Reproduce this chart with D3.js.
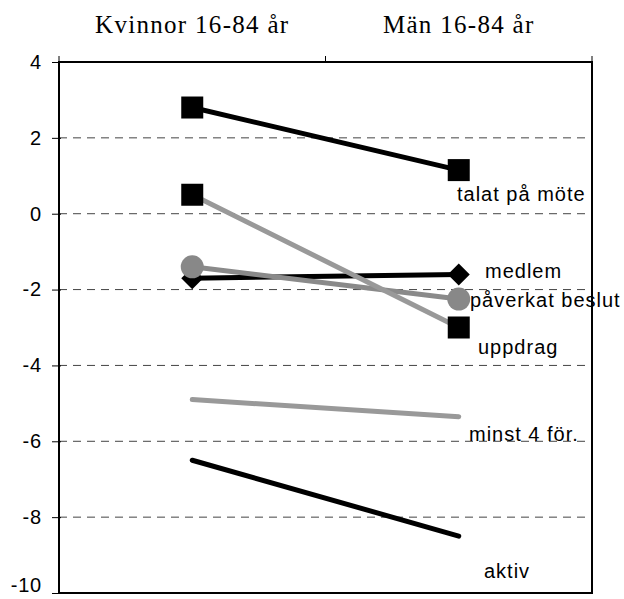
<!DOCTYPE html>
<html><head><meta charset="utf-8">
<script src="https://cdn.jsdelivr.net/npm/d3@7"></script>
<style>body{margin:0;background:#fff}svg{display:block}</style>
</head><body>
<script>
const categories = ["Kvinnor 16-84 år", "Män 16-84 år"];
const seriesNames = ["talat på möte", "uppdrag", "medlem", "påverkat beslut", "minst 4 för.", "aktiv"];
const talat = [2.8, 1.15];
const uppdrag = [0.5, -3.0];
const medlem = [-1.7, -1.6];
const paverkat = [-1.4, -2.25];
const minst4 = [-4.9, -5.35];
const aktiv = [-6.5, -8.5];
const yTicks = [4, 2, 0, -2, -4, -6, -8, -10];

const W = 624, H = 599;
const m = {left: 59, right: 32, top: 62, bottom: 6};
const svg = d3.select("body").append("svg").attr("width", W).attr("height", H);

const x = d3.scaleBand().domain(categories).range([m.left, W - m.right]);
const y = d3.scaleLinear().domain([-10, 4]).range([H - m.bottom, m.top]);
const cx = c => x(c) + x.bandwidth() / 2;

// gridlines
svg.append("g").selectAll("line").data(yTicks.filter(t => t > -10 && t < 4)).join("line")
  .attr("x1", m.left).attr("x2", W - m.right)
  .attr("y1", d => y(d)).attr("y2", d => y(d))
  .attr("stroke", "#444").attr("stroke-width", 1).attr("stroke-dasharray", "8,6");

// left axis
const ya = svg.append("g").attr("transform", `translate(${m.left},0)`)
  .call(d3.axisLeft(y).tickValues(yTicks).tickFormat(d => String(d)).tickSize(7).tickPadding(10));
ya.select(".domain").remove();
ya.selectAll("line").attr("stroke", "#000").attr("x2", -7).attr("x1", 2);
ya.selectAll("text").attr("font-family", "Liberation Sans, Arial, sans-serif").attr("font-size", 20)
  .attr("letter-spacing", 0.8).attr("fill", "#000")
  .attr("dy", d => d === -10 ? "-0.1em" : "0.32em");

// top axis
const xa = svg.append("g").attr("transform", `translate(0,${m.top})`)
  .call(d3.axisTop(x).tickSize(0).tickPadding(29));
xa.select(".domain").remove();
xa.selectAll("text").attr("font-family", "Liberation Serif, Times New Roman, serif").attr("font-size", 25)
  .attr("letter-spacing", 1.3).attr("fill", "#000");
// top axis tick marks at band edges
const edges = [m.left, x(categories[1]), W - m.right];
svg.append("g").selectAll("line").data(edges).join("line")
  .attr("x1", d => d).attr("x2", d => d).attr("y1", m.top).attr("y2", m.top - 6)
  .attr("stroke", "#000");

// frame
svg.append("rect").attr("x", m.left).attr("y", m.top)
  .attr("width", W - m.right - m.left).attr("height", H - m.bottom - m.top)
  .attr("fill", "none").attr("stroke", "#000").attr("stroke-width", 2);

const series = [
  {name: seriesNames[5], vals: aktiv, color: "#000", marker: null, lx: 484, ly: 571},
  {name: seriesNames[4], vals: minst4, color: "#999", marker: null, lx: 469, ly: 434},
  {name: seriesNames[2], vals: medlem, color: "#000", marker: "diamond", mcolor: "#000", lx: 485, ly: 271},
  {name: seriesNames[3], vals: paverkat, color: "#8a8a8a", marker: "circle", mcolor: "#888", lx: 470, ly: 300},
  {name: seriesNames[1], vals: uppdrag, color: "#999", marker: "square", mcolor: "#000", lx: 478, ly: 347},
  {name: seriesNames[0], vals: talat, color: "#000", marker: "square", mcolor: "#000", lx: 457, ly: 194},
];

const line = d3.line().x((d, i) => cx(categories[i])).y(d => y(d));
series.forEach(s => {
  svg.append("path").datum(s.vals).attr("d", line)
    .attr("fill", "none").attr("stroke", s.color).attr("stroke-width", 5).attr("stroke-linecap", "round");
});
series.forEach(s => {
  if (!s.marker) return;
  const g = svg.append("g");
  s.vals.forEach((v, i) => {
    const px = cx(categories[i]), py = y(v);
    if (s.marker === "square") {
      g.append("rect").attr("x", px - 11).attr("y", py - 11).attr("width", 22).attr("height", 22).attr("fill", s.mcolor);
    } else if (s.marker === "circle") {
      g.append("circle").attr("cx", px).attr("cy", py).attr("r", 11.5).attr("fill", s.mcolor);
    } else if (s.marker === "diamond") {
      g.append("path").attr("d", `M${px},${py-11}L${px+11},${py}L${px},${py+11}L${px-11},${py}Z`).attr("fill", s.mcolor);
    }
  });
});
// labels
series.forEach(s => {
  svg.append("text").attr("x", s.lx).attr("y", s.ly).attr("dy", "0.35em")
    .attr("font-family", "Liberation Sans, Arial, sans-serif").attr("font-size", 20)
    .attr("letter-spacing", 1).attr("fill", "#000")
    .text(s.name);
});
</script>
</body></html>
